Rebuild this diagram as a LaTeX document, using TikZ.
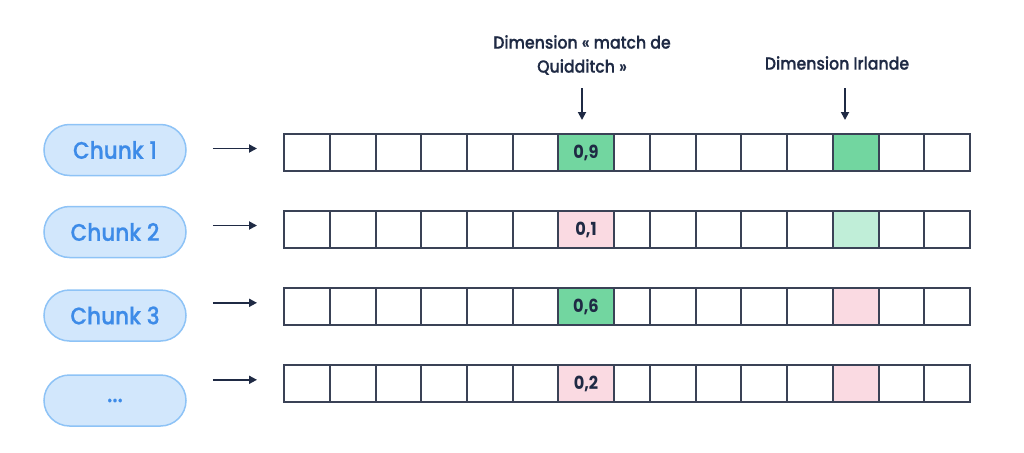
\documentclass[tikz,border=0pt]{standalone}
\usepackage{fontspec}
\setmainfont{Poppins}[UprightFont=* Medium, BoldFont=* Bold, FakeStretch=0.9, UprightFeatures={FakeBold=0.6}]
\usetikzlibrary{arrows.meta}
\definecolor{ink}{HTML}{1F2A44}
\definecolor{gridline}{HTML}{3A4256}
\definecolor{pillfill}{HTML}{D2E7FC}
\definecolor{pillline}{HTML}{8EC3F6}
\definecolor{pilltext}{HTML}{3D8BE8}
\definecolor{dgreen}{HTML}{72D6A0}
\definecolor{lgreen}{HTML}{C0EED8}
\definecolor{pinkc}{HTML}{FADAE2}
\begin{document}
\begin{tikzpicture}[x=1pt,y=-1pt,
  pill/.style={draw=pillline,line width=1.5pt,fill=pillfill,rounded corners=25.5pt,
    minimum width=142pt,minimum height=51pt,inner sep=0pt,text=pilltext,font=\fontsize{24}{26}\selectfont},
  cellbox/.style={draw=gridline,line width=2pt,inner sep=0pt,anchor=north west,fill=white},
  val/.style={font=\fontsize{18}{20}\selectfont\bfseries,text=ink},
  lab/.style={font=\fontsize{17.5}{24}\selectfont,text=ink,align=center},
  arr/.style={-{Triangle[length=8pt,width=8pt]},line width=1.8pt,draw=ink},
]
\useasboundingbox (0,0) rectangle (1024,452);
% pills
\node[pill] (p1) at (115,150) {Chunk 1};
\node[pill] (p2) at (115,232) {Chunk 2};
\node[pill] (p3) at (115,315.5) {Chunk 3};
\node[pill] (p4) at (115,400.5) {...};
% grid rows
\foreach \r/\top in {1/133,2/210,3/287.3,4/364.3}{
  \foreach \c/\a/\b in {1/283/329,2/329/375,3/375/420,4/420/466,5/466/512,6/512/557,
      7/557/613,8/613/649,9/649/695,10/695/740,11/740/786,12/786/832,13/832/878,14/878/923,15/923/969}{
    \pgfmathsetmacro{\w}{\b-\a}
    \node[cellbox,minimum width=\w pt,minimum height=37pt] (r\r c\c) at (\a,\top) {};
  }
}
% coloured cells
\node[cellbox,fill=dgreen,minimum width=56pt,minimum height=37pt] (a1) at (557,133) {};
\node[val] at (a1.center) {0,9};
\node[cellbox,fill=pinkc,minimum width=56pt,minimum height=37pt] (a2) at (557,210) {};
\node[val] at (a2.center) {0,1};
\node[cellbox,fill=dgreen,minimum width=56pt,minimum height=37pt] (a3) at (557,287.3) {};
\node[val] at (a3.center) {0,6};
\node[cellbox,fill=pinkc,minimum width=56pt,minimum height=37pt] (a4) at (557,364.3) {};
\node[val] at (a4.center) {0,2};
\node[cellbox,fill=dgreen,minimum width=46pt,minimum height=37pt] (b1) at (832,133) {};
\node[cellbox,fill=lgreen,minimum width=46pt,minimum height=37pt] (b2) at (832,210) {};
\node[cellbox,fill=pinkc,minimum width=46pt,minimum height=37pt] (b3) at (832,287.3) {};
\node[cellbox,fill=pinkc,minimum width=46pt,minimum height=37pt] (b4) at (832,364.3) {};
% row arrows
\foreach \r in {1,2,3,4}{
  \coordinate (e\r) at ([yshift=4pt]r\r c1.west);
  \draw[arr,shorten <=26pt,shorten >=26pt] (p\r.east |- e\r) -- (e\r);
}
% labels
\node[lab] (l1) at (582,55) {Dimension « match de\\Quidditch »};
\node[lab] (l2) at (837,63) {Dimension Irlande};
\coordinate (t1) at (582,120);
\coordinate (t2) at (845,120);
\draw[arr] (582,88) -- (t1);
\draw[arr] (845,88) -- (t2);
\end{tikzpicture}
\end{document}
